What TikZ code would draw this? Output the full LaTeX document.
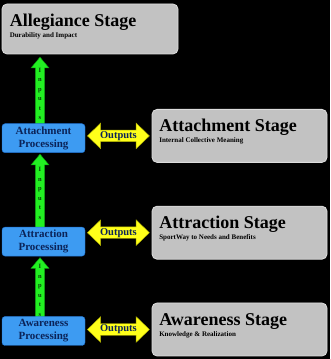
\documentclass[tikz,border=0pt]{standalone}
\usepackage{fontspec}
\setmainfont{Liberation Serif}
\usepackage{tikz}
\usetikzlibrary{shapes.arrows, positioning, calc, backgrounds}
\definecolor{stagegray}{HTML}{C2C2C2}
\definecolor{stageline}{HTML}{DDDDDD}
\definecolor{procblue}{HTML}{3D9BF2}
\definecolor{procline}{HTML}{1F6FCF}
\definecolor{proctext}{HTML}{0B2358}
\definecolor{inputgreen}{HTML}{22F022}
\definecolor{inputline}{HTML}{0E9A0E}
\definecolor{inputtext}{HTML}{0A3A0A}
\definecolor{outyellow}{HTML}{FFFF1A}
\definecolor{outline}{HTML}{B0B000}

\begin{document}
\begin{tikzpicture}[
  x=1pt, y=1pt,
  stagebox/.style   = {rectangle, rounded corners=5pt, fill=stagegray, draw=stageline, line width=0.8pt,
                       minimum width=175pt, minimum height=53pt},
  stagetitle/.style = {anchor=base west, inner sep=0pt, font=\fontsize{18}{20}\selectfont\bfseries},
  stagesub/.style   = {anchor=base west, inner sep=0pt, font=\fontsize{7}{8}\selectfont\bfseries},
  procbox/.style    = {rectangle, rounded corners=3pt, fill=procblue, draw=procline, minimum width=83pt,
                       minimum height=29pt, inner sep=0pt, align=center, text=proctext,
                       font=\fontsize{11}{13}\selectfont\bfseries},
  inarrow/.style    = {single arrow, shape border rotate=90, anchor=tip, fill=inputgreen, draw=inputline,
                       single arrow head extend=4.5pt, single arrow tip angle=80, inner xsep=2.5pt,
                       inner ysep=0pt, align=center, text=inputtext, font=\fontsize{6.5}{9.5}\selectfont\bfseries},
  outarrow/.style   = {double arrow, fill=outyellow, draw=outline, double arrow head extend=7pt,
                       double arrow tip angle=88, minimum height=62pt, inner xsep=1pt, inner ysep=1pt,
                       text=proctext, font=\fontsize{10.5}{12}\selectfont\bfseries},
]
  % stages
  \node[stagebox, minimum width=176pt, minimum height=50pt] (alleg) at (90,330) {};
  \node[stagebox] (awstage) at (239.5,29.5) {};
  \node[stagebox, above=43pt of awstage]  (atrstage) {};
  \node[stagebox, above=43pt of atrstage] (atcstage) {};

  \node[stagetitle] (allegt) at ($(alleg.north west)+(8,-23)$)     {Allegiance Stage};
  \node[stagesub] at ($(allegt.base west)+(0,-10.5)$)              {Durability and Impact};
  \node[stagetitle] (atct) at ($(atcstage.north west)+(7.5,-22.5)$) {Attachment Stage};
  \node[stagesub] at ($(atct.base west)+(0,-11)$)                  {Internal Collective Meaning};
  \node[stagetitle] (atrt) at ($(atrstage.north west)+(7.5,-22.5)$) {Attraction Stage};
  \node[stagesub] at ($(atrt.base west)+(0,-11)$)                  {SportWay to Needs and Benefits};
  \node[stagetitle] (awt) at ($(awstage.north west)+(7.5,-22.5)$)   {Awareness Stage};
  \node[stagesub] at ($(awt.base west)+(0,-11)$)                   {Knowledge \& Realization};

  % processing
  \node[procbox] (awproc) at (43.5,28)       {Awareness\\Processing};
  \node[procbox, above=60pt of awproc]  (atrproc) {Attraction\\Processing};
  \node[procbox, above=74pt of atrproc] (atcproc) {Attachment\\Processing};

  % outputs
  \node[outarrow] (awout)  at ($(awproc.east |- awstage)!0.5!(awstage.west)$)   {Outputs};
  \node[outarrow] (atrout) at ($(atrproc.east |- atrstage)!0.5!(atrstage.west)$) {Outputs};
  \node[outarrow] (atcout) at ($(atcproc.east |- atcstage)!0.5!(atcstage.west)$) {Outputs};

  % inputs, behind the boxes
  \begin{scope}[on background layer]
    \fill[black] (0,0) rectangle (330,359);
    \node[inarrow, minimum height=68pt] (atcin) at ($(atcproc.north |- alleg.south)+(-3.5,-2.5)$)   {I\\n\\p\\u\\t\\s};
    \node[inarrow, minimum height=73pt] (atrin) at ($(atrproc.north |- atcproc.south)+(-3.5,-1)$)  {I\\n\\p\\u\\t\\s};
    \node[inarrow, minimum height=60pt] (awin)  at ($(awproc.north |- atrproc.south)+(-3.5,-1)$)   {I\\n\\p\\u\\t\\s};
  \end{scope}
\end{tikzpicture}
\end{document}
